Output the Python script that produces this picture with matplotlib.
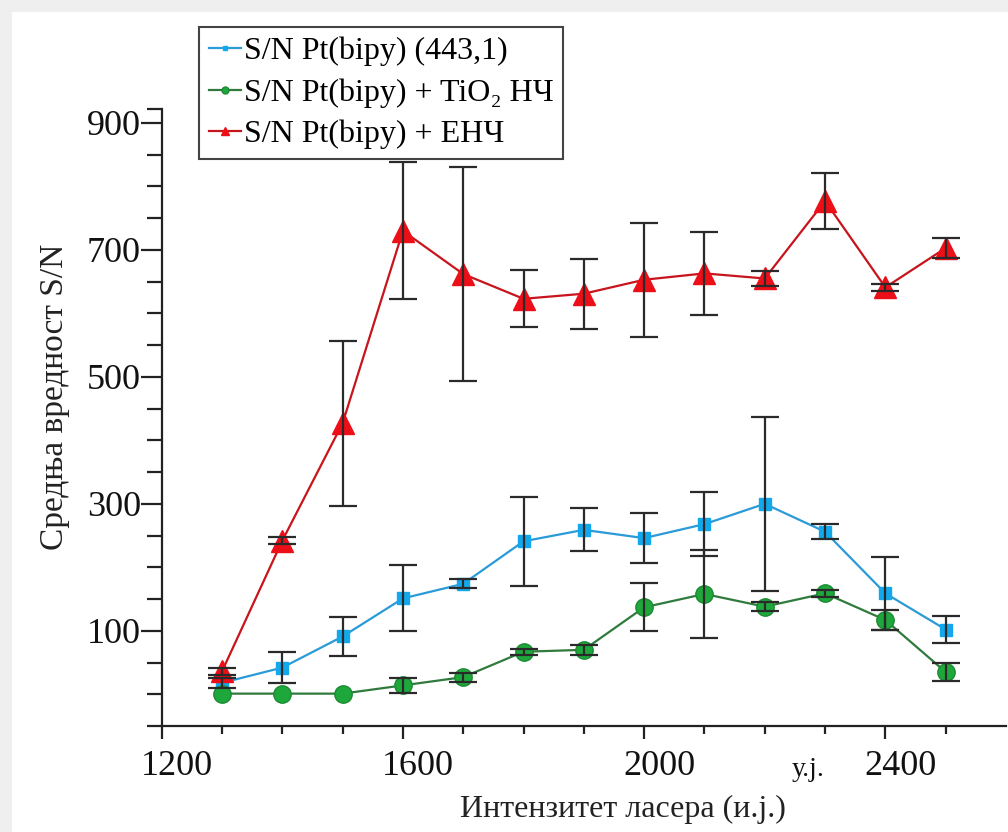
import matplotlib
matplotlib.use('Agg')
import matplotlib.pyplot as plt
from matplotlib.ticker import FixedLocator
from matplotlib.patches import Rectangle
from matplotlib.transforms import ScaledTranslation

plt.rcParams['font.family'] = ['Liberation Serif', 'DejaVu Serif']

x = [1300, 1400, 1500, 1600, 1700, 1800, 1900, 2000, 2100, 2200, 2300, 2400, 2500]

blue = [18, 42, 91, 151, 174, 241, 259, 246, 268, 300, 256, 159, 102]
blue_err = [8, 25, 30, 52, 7, 70, 34, 40, 50, 137, 12, 58, 22]

green = [1, 1, 1, 14, 27, 67, 70, 137, 158, 138, 159, 117, 35]
green_err = [0, 0, 0, 12, 7, 5, 8, 38, 70, 7, 6, 16, 14]

red = [36, 242, 427, 730, 662, 623, 631, 653, 663, 655, 777, 641, 703]
red_err = [5, 6, 130, 108, 168, 45, 55, 90, 66, 12, 44, 6, 16]

labels = ['S/N Pt(bipy) (443,1)', 'S/N Pt(bipy) + TiO\u2082 НЧ', 'S/N Pt(bipy) + ЕНЧ']

fig = plt.figure(figsize=(10.08, 8.32), dpi=100)
fig.patch.set_facecolor('#efefef')
fig.patches.append(Rectangle((12 / 1008, 0), 1, 1 - 12 / 832, transform=fig.transFigure,
                             facecolor='white', edgecolor='none', zorder=-1))

ax = fig.add_axes([0.1604, 0.1274, 0.8376, 0.7416])
ax.set_zorder(2)
ax.set_facecolor('none')

ax.plot(x, blue, color='#2a9ad8', lw=1.6, marker='s', ms=8, mfc='#13a8ec', mec='#13a8ec',
        label=labels[0], zorder=3)
ax.plot(x, green, color='#2f7a3c', lw=1.6, marker='o', ms=12.5, mfc='#1ea83c', mec='#1b8a32',
        label=labels[1], zorder=3)
ax.plot(x, red, color='#c8141c', lw=1.6, marker='^', ms=15.5, mfc='#ec0f18', mec='#ec0f18',
        label=labels[2], zorder=3)

for vals, errs in [(blue, blue_err), (green, green_err), (red, red_err)]:
    xs = [a for a, e in zip(x, errs) if e > 0]
    ys = [a for a, e in zip(vals, errs) if e > 0]
    es = [e for e in errs if e > 0]
    ax.errorbar(xs, ys, yerr=es, fmt='none', ecolor='#2a2a2a', elinewidth=1.6,
                capsize=10, capthick=1.6, zorder=4)

ax.set_xlim(1200, 2600)
ax.set_ylim(-50, 922)

ax.xaxis.set_major_locator(FixedLocator([1200, 1600, 2000, 2400]))
ax.xaxis.set_minor_locator(FixedLocator([1300, 1400, 1500, 1700, 1800, 1900, 2100, 2200,
                                         2300, 2500]))
ax.yaxis.set_major_locator(FixedLocator([100, 300, 500, 700, 900]))
ax.yaxis.set_minor_locator(FixedLocator([-50, 0, 50, 150, 200, 250, 350, 400, 450, 550, 600,
                                         650, 750, 800, 850, 922]))

for s in ['top', 'right']:
    ax.spines[s].set_visible(False)
for s in ['left', 'bottom']:
    ax.spines[s].set_linewidth(1.6)
    ax.spines[s].set_color('#222222')

ax.tick_params(axis='y', which='major', length=15, width=1.6, labelsize=26, pad=0, colors='#222222')
ax.tick_params(axis='y', which='minor', length=11, width=1.6, colors='#222222')
ax.tick_params(axis='x', which='major', length=9, width=1.6, labelsize=26, pad=8, colors='#222222')
ax.tick_params(axis='x', which='minor', length=6, width=1.6, colors='#222222')
for t in ax.get_xticklabels() + ax.get_yticklabels():
    t.set_color('#111111')

# the x tick labels sit a little right of their ticks in the original
shift = ScaledTranslation(15 / 100, 0, fig.dpi_scale_trans)
for t in ax.get_xticklabels():
    t.set_transform(t.get_transform() + shift)

ax.set_xlabel('Интензитет ласера (и.ј.)', fontsize=23, color='#222222')
ax.xaxis.set_label_coords((623 - 161.7) / 844.3, (726 - 795) / 617)
ax.set_ylabel('Средња вредност S/N', fontsize=24, color='#222222')
ax.yaxis.set_label_coords((70 - 161.7) / 844.3, (726 - 397) / 617)

fig.text(808 / 1008, 1 - 770 / 832, 'у.ј.', fontsize=20, ha='center', va='center', color='#111111')

leg = ax.legend(loc='upper left', bbox_to_anchor=(199 / 1008, 1 - 27 / 832),
                bbox_transform=fig.transFigure, borderaxespad=0, fontsize=23,
                fancybox=False, framealpha=1, edgecolor='#444444', markerscale=0.4,
                handlelength=1.0, handletextpad=0.1, labelspacing=0.38, borderpad=0.3)
leg.get_frame().set_linewidth(1.5)

fig.savefig('out.png', dpi=100, facecolor=fig.get_facecolor())
